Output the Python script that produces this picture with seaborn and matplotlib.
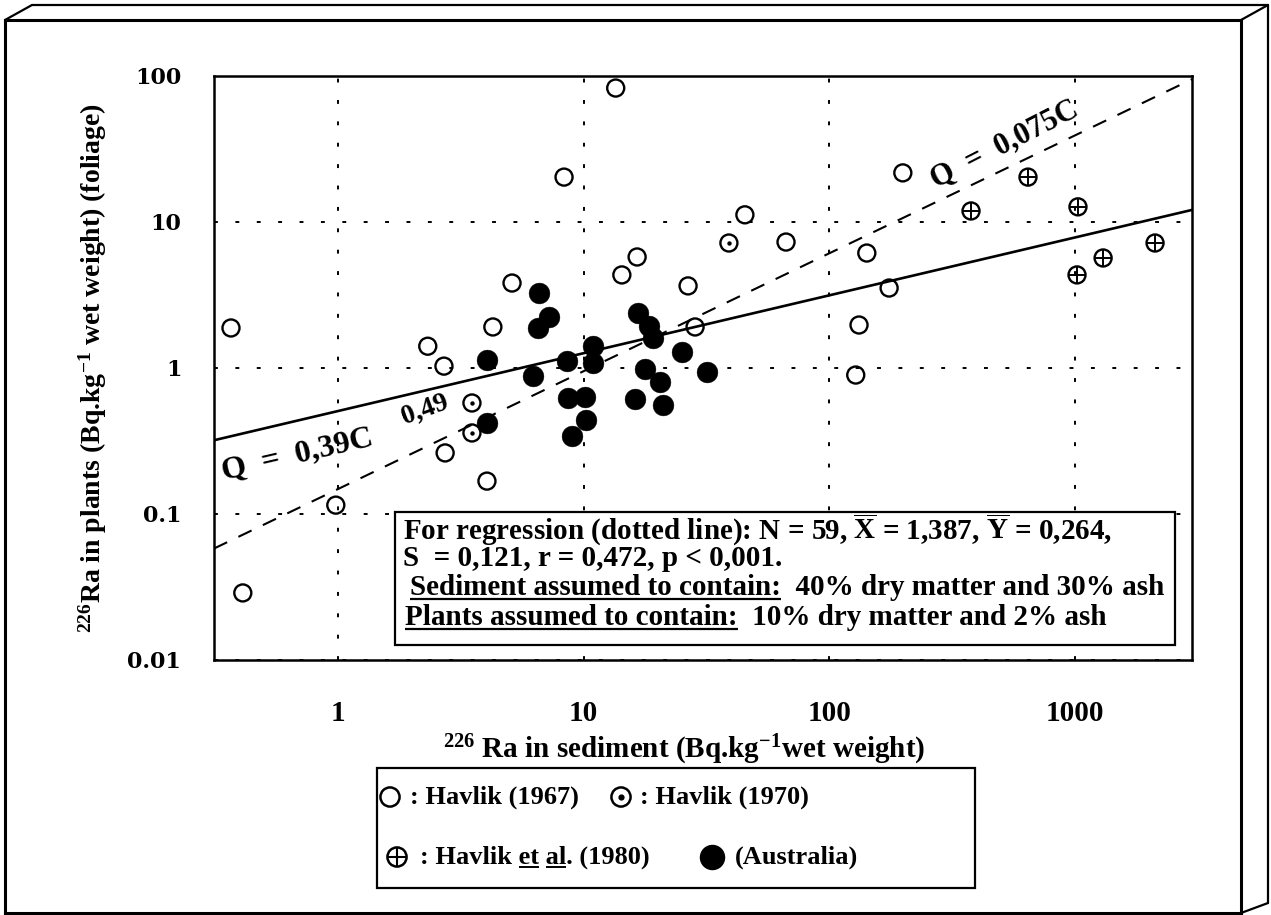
import numpy as np
import pandas as pd
import matplotlib
matplotlib.use("Agg")
import matplotlib.pyplot as plt
import seaborn as sns
from matplotlib.patches import Rectangle
from matplotlib.ticker import NullLocator

# ---------------- data ----------------
h67_x = [0.367, 0.41, 0.98, 2.32, 2.70, 2.73, 4.04, 4.27, 5.11, 8.32, 13.5,
         14.3, 16.5, 26.6, 28.4, 45.3, 66.6, 142, 175, 132, 128, 199]
h67_y = [1.88, 0.0288, 0.115, 1.41, 1.03, 0.262, 0.168, 1.91, 3.82, 20.3, 82.7,
         4.34, 5.76, 3.65, 1.91, 11.2, 7.29, 6.13, 3.53, 1.97, 0.895, 21.7]

h70_x = [3.51, 3.51, 39.0]
h70_y = [0.576, 0.359, 7.18]

h80_x = [377, 643, 1027, 1018, 1300, 2115]
h80_y = [11.9, 20.3, 12.7, 4.34, 5.67, 7.18]

aus_x = [4.04, 4.04, 6.22, 6.58, 7.22, 6.52, 8.55, 10.9, 10.9, 8.63, 10.1,
         10.2, 8.96, 16.6, 18.4, 19.1, 25.1, 17.8, 20.5, 31.8, 16.2, 21.0]
aus_y = [1.13, 0.42, 0.88, 3.26, 2.24, 1.88, 1.12, 1.41, 1.08, 0.62, 0.63,
         0.44, 0.34, 2.38, 1.94, 1.60, 1.29, 0.98, 0.80, 0.94, 0.61, 0.56]

# fitted lines (end points)
line_x = [0.313, 2990]
solid_y = [0.32, 12.1]      # Q = 0,39C^0,49
dashed_y = [0.058, 95]      # Q = 0,075C

x_ticks = [1, 10, 100, 1000]
x_tick_labels = ["1", "10", "100", "1000"]
y_ticks = [0.01, 0.1, 1, 10, 100]
y_tick_labels = ["0.01", "0.1", "1", "10", "100"]

legend_labels = [": Havlik (1967)", ": Havlik (1970)",
                 ": Havlik et al. (1980)", "(Australia)"]

box_lines = [
    r"For regression (dotted line): N = 59, $\overline{\mathrm{X}}$ = 1,387, $\overline{\mathrm{Y}}$ = 0,264,",
    "S  = 0,121, r = 0,472, p < 0,001.",
    "Sediment assumed to contain:  40% dry matter and 30% ash",
    "Plants assumed to contain:  10% dry matter and 2% ash",
]

# ---------------- style ----------------
sns.set_style("white")
plt.rcParams.update({
    "font.weight": "bold",
    "mathtext.fontset": "custom",
    "mathtext.rm": "Liberation Serif:bold",
    "mathtext.bf": "Liberation Serif:bold",
    "mathtext.it": "Liberation Serif:italic:bold",
    "mathtext.default": "rm",
    "axes.edgecolor": "black",
    "text.color": "black",
    "axes.labelcolor": "black",
    "xtick.color": "black",
    "ytick.color": "black",
})
plt.rcParams["font.family"] = ["Liberation Serif", "DejaVu Serif"]
SERIF = ["Liberation Serif", "DejaVu Serif"]

W, H = 1271, 915
fig = plt.figure(figsize=(W / 100, H / 100), dpi=100)
fig.patch.set_facecolor("white")

L, R, T, B = 214, 1192, 76, 660
ax = fig.add_axes([L / W, 1 - B / H, (R - L) / W, (B - T) / H])
ax.set_xscale("log")
ax.set_yscale("log")

# ---------------- marks ----------------
S_OPEN = 150
sns.lineplot(x=line_x, y=solid_y, ax=ax, color="black", linewidth=1.9, zorder=2)
sns.lineplot(x=line_x, y=dashed_y, ax=ax, color="black", linewidth=1.5,
             linestyle=(0, (7, 6)), zorder=2)

sns.scatterplot(x=h67_x, y=h67_y, ax=ax, s=S_OPEN, marker="o", color="black",
                facecolors="none", edgecolors="black", linewidth=1.7, zorder=4)
sns.scatterplot(x=h70_x, y=h70_y, ax=ax, s=S_OPEN, marker="o", color="black",
                facecolors="none", edgecolors="black", linewidth=1.7, zorder=4)
sns.scatterplot(x=h70_x, y=h70_y, ax=ax, s=10, marker="o", color="black",
                linewidth=0, zorder=4)
sns.scatterplot(x=h80_x, y=h80_y, ax=ax, s=S_OPEN, marker="o", color="black",
                facecolors="none", edgecolors="black", linewidth=1.7, zorder=4)
sns.scatterplot(x=h80_x, y=h80_y, ax=ax, s=S_OPEN, marker="+", color="black",
                linewidth=1.4, zorder=4)
sns.scatterplot(x=aus_x, y=aus_y, ax=ax, s=225, marker="o", color="black",
                edgecolor="black", linewidth=0.3, zorder=4)

# ---------------- axes ----------------
ax.set_xlim(0.313, 2990)
ax.set_ylim(0.01, 100)
ax.set_xticks(x_ticks)
ax.set_xticklabels(x_tick_labels, fontsize=21, fontweight="bold", fontfamily=SERIF)
ax.set_yticks(y_ticks)
ax.set_yticklabels(y_tick_labels, fontsize=16, fontweight="bold",
                   fontfamily=["DejaVu Serif"])
ax.xaxis.set_minor_locator(NullLocator())
ax.yaxis.set_minor_locator(NullLocator())
ax.tick_params(axis="y", direction="inout", length=27, width=2, pad=10, colors="black")
ax.tick_params(axis="x", direction="inout", length=16, width=1.6, pad=21, colors="black")
ax.grid(True, which="major", color="black", linestyle=(0, (2, 9)), linewidth=1.4)
ax.set_axisbelow(True)
for s in ax.spines.values():
    s.set_linewidth(1.8)
    s.set_color("black")

ax.set_ylabel(r"$^{226}$Ra in plants (Bq.kg$^{-1}$ wet weight) (foliage)",
              fontsize=20, fontweight="bold", va="center", color="black")
ax.yaxis.set_label_coords((93 - L) / (R - L), 0.5)
ax.set_xlabel(r"$^{226}$ Ra in sediment (Bq.kg$^{-1}$wet weight)",
              fontsize=21, fontweight="bold", va="center", color="black")
ax.xaxis.set_label_coords((684 - L) / (R - L), -(750 - B) / (B - T))

# ---------------- overlay (pixel coordinates) ----------------
ov = fig.add_axes([0, 0, 1, 1])
ov.set_xlim(0, W)
ov.set_ylim(H, 0)
ov.axis("off")
ov.set_zorder(5)
ov.patch.set_alpha(0)

renderer = fig.canvas.get_renderer()


def text_width(s, **kw):
    t = ov.text(0, 100, s, **kw)
    bb = t.get_window_extent(renderer=renderer)
    t.remove()
    return bb.width


def underline(x_start, x_end, y, lw=1.6):
    ov.plot([x_start, x_end], [y, y], color="black", lw=lw, solid_capstyle="butt", zorder=8)


# line labels
ov.text(297, 455, "Q  =  0,39C", rotation=13, ha="center", va="center",
        fontsize=23, fontweight="bold", color="black", zorder=7)
ov.text(425, 410, "0,49", rotation=20, ha="center", va="center",
        fontsize=20, fontweight="bold", color="black", zorder=7)
ov.text(1005, 145, "Q  =  0,075C", rotation=27, ha="center", va="center",
        fontsize=22, fontweight="bold", color="black", zorder=7)

# 3D frame around the figure
frame_front = dict(color="black", lw=2.2, solid_capstyle="projecting")
ov.plot([5, 5], [20, 913], **frame_front)
ov.plot([5, 1241], [20, 20], **frame_front)
ov.plot([1241, 1241], [20, 913], **frame_front)
ov.plot([5, 1241], [913, 913], **frame_front)
frame_back = dict(color="black", lw=1.6)
ov.plot([32, 1268], [5, 5], **frame_back)
ov.plot([1268, 1268], [5, 903], **frame_back)
ov.plot([5, 32], [20, 5], **frame_back)
ov.plot([1241, 1268], [20, 5], **frame_back)
ov.plot([1241, 1268], [913, 903], **frame_back)

# statistics box
ov.add_patch(Rectangle((395, 512), 780, 133, facecolor="white", edgecolor="black",
                       lw=1.6, zorder=3))
box_kw = dict(fontsize=21, fontweight="bold", fontfamily=SERIF, color="black")
box_x = [403, 403, 410, 405]
box_base = [539, 566, 595, 625]
for txt, bx, by in zip(box_lines, box_x, box_base):
    ov.text(bx, by, txt, va="baseline", ha="left", zorder=7, **box_kw)
underline(410, 410 + text_width("Sediment assumed to contain:", **box_kw), 599)
underline(405, 405 + text_width("Plants assumed to contain:", **box_kw), 629)

# legend box
ov.add_patch(Rectangle((377, 768), 598, 120, facecolor="white", edgecolor="black",
                       lw=1.6, zorder=3))
leg_kw = dict(fontsize=19, fontweight="bold", fontfamily=SERIF, color="black")
r1, r2 = 797, 857
S_LEG = 190
ov.scatter([390], [r1], s=S_LEG, marker="o", facecolors="none", edgecolors="black",
           linewidths=1.8, zorder=6)
ov.scatter([621], [r1], s=S_LEG, marker="o", facecolors="none", edgecolors="black",
           linewidths=1.8, zorder=6)
ov.scatter([621], [r1], s=12, marker="o", color="black", zorder=6)
ov.scatter([397], [r2], s=S_LEG, marker="o", facecolors="none", edgecolors="black",
           linewidths=1.8, zorder=6)
ov.scatter([397], [r2], s=S_LEG, marker="+", color="black", linewidths=1.5, zorder=6)
ov.scatter([712], [r2], s=300, marker="o", color="black", zorder=6)

ov.text(410, r1, legend_labels[0], va="center", ha="left", zorder=7, **leg_kw)
ov.text(640, r1, legend_labels[1], va="center", ha="left", zorder=7, **leg_kw)
ov.text(420, r2, legend_labels[2], va="center", ha="left", zorder=7, **leg_kw)
ov.text(735, r2, legend_labels[3], va="center", ha="left", zorder=7, **leg_kw)

t_lab = legend_labels[2]
x_et_end = 420 + text_width(t_lab[:t_lab.index("et") + 2], **leg_kw)
x_et_start = x_et_end - text_width("et", **leg_kw)
x_al_end = 420 + text_width(t_lab[:t_lab.index("al") + 2], **leg_kw)
x_al_start = x_al_end - text_width("al", **leg_kw)
underline(x_et_start, x_et_end, r2 + 10, lw=1.4)
underline(x_al_start, x_al_end, r2 + 10, lw=1.4)

fig.savefig("out.png", dpi=100, facecolor="white")
